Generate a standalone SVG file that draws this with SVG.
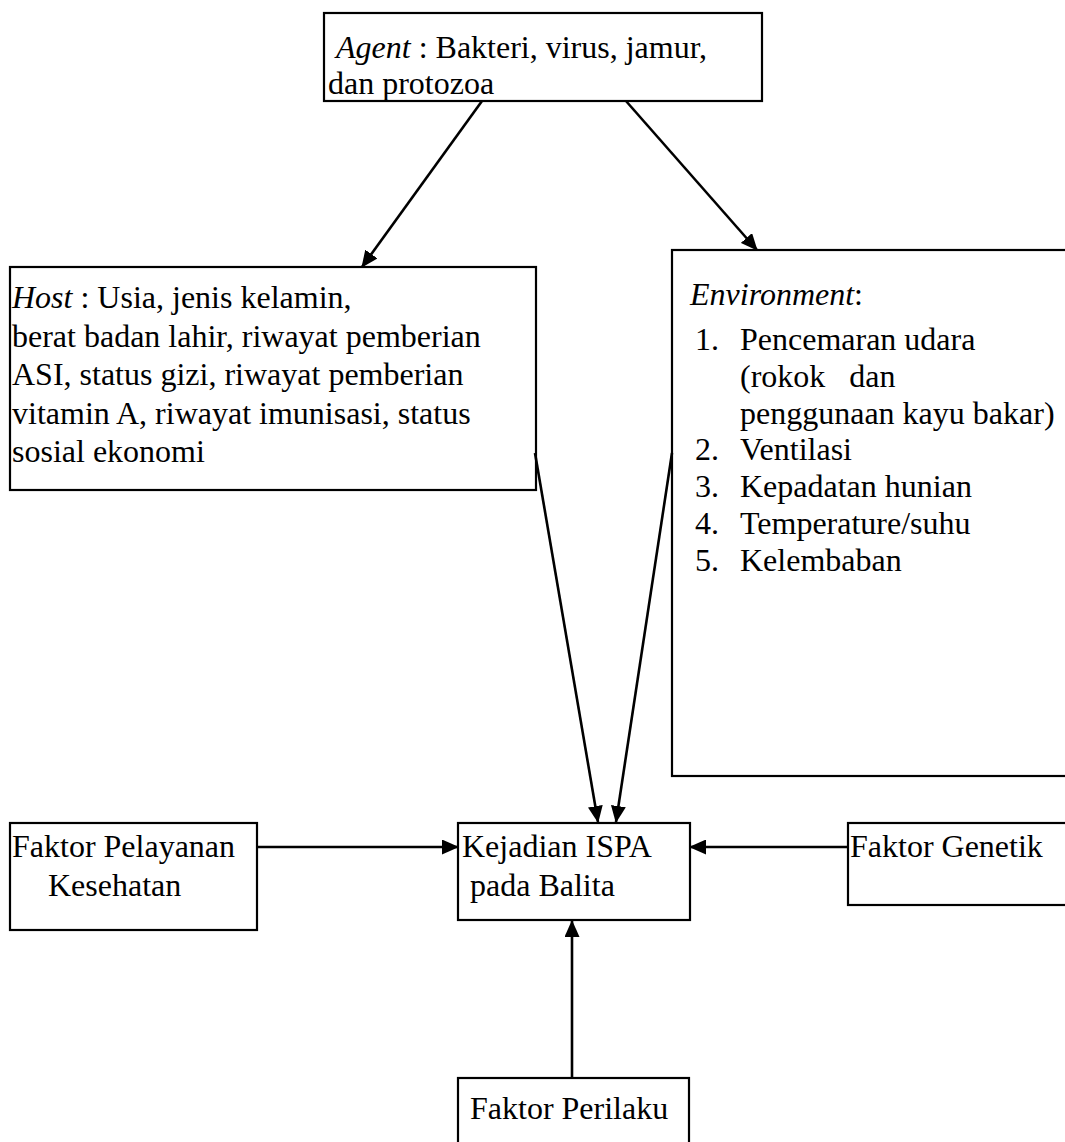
<svg xmlns="http://www.w3.org/2000/svg" width="1065" height="1142" viewBox="0 0 1065 1142">
<style>
.box{fill:#fff;stroke:#000;stroke-width:2.2}
.t{font-family:"Liberation Serif","Times New Roman",serif;font-size:32px;fill:#000;white-space:pre}
.i{font-style:italic}
.c{stroke:#000;stroke-width:2.6;fill:none;marker-end:url(#ah)}
</style>
<defs>
<marker id="ah" markerWidth="17" markerHeight="15" refX="16" refY="7.5" orient="auto" markerUnits="userSpaceOnUse">
<path d="M0,0 L17,7.5 L0,15 Z" fill="#000"/>
</marker>
</defs>
<g id="agent">
<rect class="box" x="324" y="13" width="438" height="88"/>
<text class="t" x="336" y="58"><tspan class="i">Agent</tspan> : Bakteri, virus, jamur,</text>
<text class="t" x="328" y="94">dan protozoa</text>
</g>
<g id="host">
<rect class="box" x="10" y="267" width="526" height="223"/>
<text class="t" x="12" y="308"><tspan class="i">Host</tspan> : Usia, jenis kelamin,</text>
<text class="t" x="12" y="347">berat badan lahir, riwayat pemberian</text>
<text class="t" x="12" y="385">ASI, status gizi, riwayat pemberian</text>
<text class="t" x="12" y="424">vitamin A, riwayat imunisasi, status</text>
<text class="t" x="12" y="462">sosial ekonomi</text>
</g>
<g id="environment">
<rect class="box" x="672" y="250" width="420" height="526"/>
<text class="t" x="690" y="305"><tspan class="i">Environment</tspan>:</text>
<text class="t" x="695" y="350">1.</text><text class="t" x="740" y="350">Pencemaran udara</text>
<text class="t" x="740" y="387" xml:space="preserve">(rokok   dan</text>
<text class="t" x="740" y="424">penggunaan kayu bakar)</text>
<text class="t" x="695" y="460">2.</text><text class="t" x="740" y="460">Ventilasi</text>
<text class="t" x="695" y="497">3.</text><text class="t" x="740" y="497">Kepadatan hunian</text>
<text class="t" x="695" y="534">4.</text><text class="t" x="740" y="534">Temperature/suhu</text>
<text class="t" x="695" y="571">5.</text><text class="t" x="740" y="571">Kelembaban</text>
</g>
<g id="kejadian">
<rect class="box" x="458" y="823" width="232" height="97"/>
<text class="t" x="462" y="857">Kejadian ISPA</text>
<text class="t" x="470" y="896">pada Balita</text>
</g>
<g id="pelayanan">
<rect class="box" x="10" y="823" width="247" height="107"/>
<text class="t" x="12" y="857">Faktor Pelayanan</text>
<text class="t" x="48" y="896">Kesehatan</text>
</g>
<g id="genetik">
<rect class="box" x="848" y="823" width="240" height="82"/>
<text class="t" x="850" y="857">Faktor Genetik</text>
</g>
<g id="perilaku">
<rect class="box" x="458" y="1078" width="231" height="80"/>
<text class="t" x="470" y="1119">Faktor Perilaku</text>
</g>
<g id="connectors">
<line class="c" x1="482" y1="101" x2="362" y2="267"/>
<line class="c" x1="626" y1="101" x2="757" y2="250"/>
<line class="c" x1="535" y1="453" x2="598" y2="822"/>
<line class="c" x1="672" y1="453" x2="616" y2="822"/>
<line class="c" x1="257" y1="847" x2="458" y2="847"/>
<line class="c" x1="848" y1="847" x2="690" y2="847"/>
<line class="c" x1="572" y1="1078" x2="572" y2="921"/>
</g>
</svg>
